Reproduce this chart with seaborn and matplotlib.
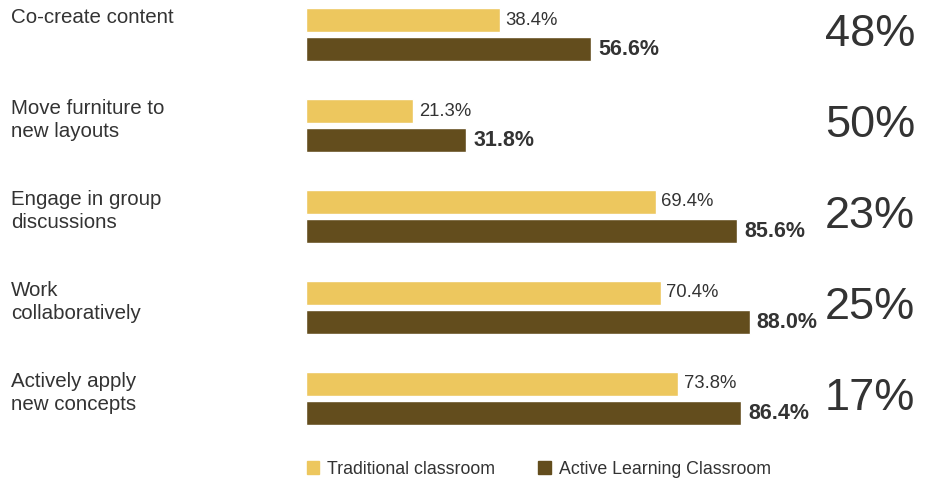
import pandas as pd
import seaborn as sns
import matplotlib.pyplot as plt
from matplotlib.patches import Patch
from matplotlib.transforms import blended_transform_factory

# data
activities = ["Co-create content", "Move furniture to\nnew layouts",
              "Engage in group\ndiscussions", "Work\ncollaboratively",
              "Actively apply\nnew concepts"]
traditional = [38.4, 21.3, 69.4, 70.4, 73.8]
active = [56.6, 31.8, 85.6, 88.0, 86.4]
lift = ["48%", "50%", "23%", "25%", "17%"]
rooms = ["Traditional classroom", "Active Learning Classroom"]

light = "#EDC75E"
dark = "#634D1D"
txt = "#333333"

df = pd.DataFrame({
    "activity": activities * 2,
    "value": traditional + active,
    "room": [rooms[0]] * 5 + [rooms[1]] * 5,
})

sns.set_style("white")
plt.rcParams["font.family"] = ["Liberation Sans", "DejaVu Sans"]

fig = plt.figure(figsize=(9.3, 4.82), dpi=100)
ax = fig.add_axes([306 / 930, (482 - 444) / 482, 624 / 930, 444 / 482])

sns.barplot(data=df, x="value", y="activity", hue="room", order=activities,
            hue_order=rooms, palette=[light, dark], orient="h",
            width=0.64, gap=0.18, legend=False, ax=ax, saturation=1)

ax.set_xlim(0, 624 / 5.04)
ax.set_ylim(4.5, -0.38)
ax.set_xticks([])
ax.set_yticks([])
ax.set_xlabel("")
ax.set_ylabel("")
sns.despine(ax=ax, left=True, bottom=True)

# value labels
ax.bar_label(ax.containers[0], fmt="%.1f%%", padding=4, fontsize=13.3, color=txt)
ax.bar_label(ax.containers[1], fmt="%.1f%%", padding=5, fontsize=15.5,
             color=txt, fontweight="bold")

# category labels on the left
tr = blended_transform_factory(fig.transFigure, ax.transData)
for i, name in enumerate(activities):
    ax.text(11 / 930, i - 0.29, name, transform=tr, ha="left", va="top",
            fontsize=14.8, color=txt, linespacing=1.27)

# lift numbers on the right
for i, s in enumerate(lift):
    ax.text(915 / 930, i, s, transform=tr, ha="right", va="center",
            fontsize=32.5, color=txt, fontweight="light")

handles = [Patch(color=light, label=rooms[0]), Patch(color=dark, label=rooms[1])]
fig.legend(handles=handles, loc="center left", bbox_to_anchor=(307 / 930, 13 / 482),
           ncol=2, frameon=False, fontsize=12.8, handlelength=0.7, handleheight=0.7,
           handletextpad=0.45, columnspacing=2.4, borderpad=0, borderaxespad=0,
           labelcolor=txt)

fig.savefig("out.png", dpi=100)
